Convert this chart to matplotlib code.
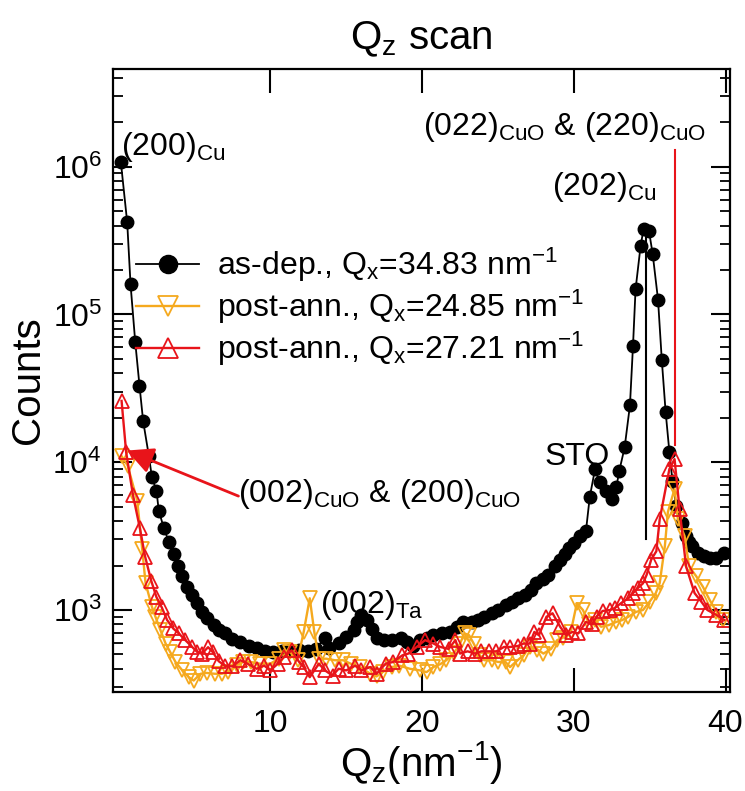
import numpy as np
import matplotlib
matplotlib.use('Agg')
import matplotlib.pyplot as plt

plt.rcParams['font.family'] = ['Liberation Sans', 'DejaVu Sans']
plt.rcParams['mathtext.fontset'] = 'custom'
plt.rcParams['mathtext.rm'] = 'Liberation Sans'
plt.rcParams['mathtext.it'] = 'Liberation Sans'
plt.rcParams['mathtext.default'] = 'regular'

# as-dep., Qx = 34.83 nm^-1
qz_dep = [0.15, 0.57, 0.79, 1.1, 1.38, 1.62, 2.0, 2.2, 2.5, 2.65, 2.98, 3.31, 3.64, 3.9,
          4.19, 4.52, 4.85, 5.18, 5.5, 5.84, 6.27, 6.6, 7.04, 7.48, 8.03, 8.57, 9.1, 9.67,
          10.2, 10.75, 11.3, 11.9, 12.5, 13.0, 13.6, 13.9, 14.5, 15.0, 15.5, 15.7, 16.0,
          16.4, 16.7, 17.0, 17.5, 18.0, 18.6, 19.0, 19.43, 19.87, 20.3, 20.75, 21.3, 21.84,
          22.3, 22.7, 23.3, 23.7, 24.1, 24.6, 25.0, 25.5, 25.9, 26.3, 26.8, 27.2, 27.5,
          28.0, 28.3, 28.75, 29.1, 29.4, 29.7, 30.0, 30.4, 30.8, 31.05, 31.4, 31.7, 32.1,
          32.5, 32.8, 33.0, 33.35, 33.7, 33.9, 34.07, 34.4, 34.6, 34.95, 35.2, 35.55, 35.8,
          36.05, 36.3, 36.5, 36.75, 37.1, 37.4, 37.6, 37.8, 38.2, 38.6, 39.0, 39.4, 39.9]
cnt_dep = [1.08e6, 4.2e5, 1.6e5, 6.5e4, 3.3e4, 1.9e4, 1.1e4, 7900, 6400, 4700, 3600, 2900,
           2400, 2000, 1700, 1440, 1270, 1110, 973, 877, 790, 731, 694, 641, 610, 570, 550,
           530, 520, 525, 533, 540, 530, 545, 650, 550, 600, 658, 731, 830, 930, 860, 740,
           645, 625, 625, 650, 610, 570, 625, 645, 675, 694, 710, 770, 830, 835, 855, 900,
           950, 1000, 1080, 1140, 1200, 1265, 1370, 1520, 1620, 1730, 1970, 2190, 2390,
           2630, 2850, 3160, 3420, 5800, 9000, 7300, 6400, 5620, 6760, 8770, 1.26e4, 2.43e4,
           6.1e4, 1.48e5, 2.9e5, 3.8e5, 3.7e5, 2.56e5, 1.26e5, 4.9e4, 2.2e4, 1.17e4, 7500,
           5060, 3900, 3160, 2900, 2700, 2440, 2310, 2250, 2250, 2440]

# post-ann., Qx = 24.85 nm^-1
qz_a1 = [0.2, 0.6, 1.23, 1.56, 1.78, 2.2, 2.43, 2.76, 3.1, 3.4, 3.75, 4.2, 4.63, 4.95, 5.4,
         5.8, 6.35, 6.8, 7.2, 7.8, 8.2, 8.7, 9.3, 10.0, 10.55, 10.9, 11.3, 11.8, 12.2, 12.6,
         12.9, 13.2, 13.7, 14.25, 14.8, 15.3, 15.9, 16.6, 17.0, 17.4, 18.0, 18.5, 19.2,
         19.87, 20.3, 20.75, 21.2, 21.6, 22.1, 22.5, 22.8, 23.1, 23.4, 23.8, 24.1, 24.6, 25.0,
         25.5, 25.8, 26.3, 26.7, 27.1, 27.6, 28.0, 28.5, 28.9, 29.3, 29.8, 30.2, 30.6, 31.0,
         31.4, 31.8, 32.3, 32.8, 33.2, 33.6, 34.1, 34.56, 35.0, 35.4, 35.66, 36.0, 36.2,
         36.64, 36.86, 37.3, 37.6, 38.07, 38.5, 38.95, 39.4, 39.8]
cnt_a1 = [1.1e4, 9500, 5500, 2570, 1520, 1050, 900, 730, 593, 520, 445, 390, 351, 333, 370,
          375, 370, 370, 380, 422, 445, 445, 433, 433, 468, 533, 520, 457, 710, 1200, 710,
          468, 468, 457, 457, 433, 411, 370, 355, 380, 411, 420, 400, 390, 380, 411, 430,
          457, 510, 593, 694, 675, 593, 495, 457, 457, 445, 445, 411, 457, 495, 562, 540,
          507, 545, 625, 650, 710, 1110, 1000, 810, 850, 770, 790, 830, 855, 900, 970, 1000,
          1140, 1300, 1520, 2700, 4600, 6600, 4100, 3160, 1970, 1690, 1440, 1170, 975, 855]

# post-ann., Qx = 27.21 nm^-1
qz_a2 = [0.2, 0.5, 0.95, 1.4, 1.75, 2.15, 2.5, 2.85, 3.2, 3.6, 3.97, 4.4, 4.85, 5.18, 5.5,
         5.9, 6.2, 6.6, 7.0, 7.5, 8.03, 8.5, 9.1, 9.6, 10.0, 10.5, 10.9, 11.4, 11.9, 12.2,
         12.6, 13.2, 13.6, 14.1, 14.5, 15.0, 15.6, 16.0, 16.6, 17.0, 17.6, 18.1, 18.7, 19.1,
         19.65, 20.2, 20.75, 21.2, 21.75, 22.2, 22.5, 23.0, 23.5, 23.9, 24.4, 24.9, 25.4,
         25.8, 26.3, 26.7, 27.1, 27.4, 27.7, 28.2, 28.6, 29.1, 29.5, 29.9, 30.3, 30.8, 31.2,
         31.5, 31.9, 32.4, 32.7, 33.1, 33.6, 33.9, 34.2, 34.56, 34.8, 35.1, 35.44, 35.66,
         36.3, 36.64, 36.97, 37.4, 37.96, 38.4, 38.8, 39.4, 39.93]
cnt_a2 = [2.6e4, 1.17e4, 6000, 3600, 2300, 1580, 1220, 1040, 855, 750, 694, 625, 562, 520,
          507, 560, 520, 450, 420, 415, 457, 433, 400, 420, 390, 433, 480, 533, 445, 411,
          351, 433, 390, 360, 400, 390, 420, 390, 411, 370, 433, 445, 493, 507, 562, 625,
          593, 562, 545, 625, 507, 525, 507, 525, 525, 525, 562, 562, 570, 593, 593, 710,
          675, 900, 950, 770, 675, 710, 694, 830, 800, 900, 985, 1000, 1030, 1110, 1200,
          1300, 1400, 1515, 1730, 2190, 2500, 4100, 9000, 1.05e4, 4800, 1970, 1300, 1140,
          1000, 925, 855]

c_orange = '#F5A91E'
c_red = '#E8141A'

fig = plt.figure(figsize=(7.45, 7.91), dpi=100)
ax = fig.add_axes([0.152, 0.125, 0.828, 0.788])

ax.plot(qz_dep, cnt_dep, '-o', color='black', lw=1.3, ms=9,
        label='as-dep., Q$_x$=34.83 nm$^{-1}$')
ax.plot(qz_a1, cnt_a1, '-v', color=c_orange, lw=1.7, ms=10, mfc='none', mew=1.3,
        label='post-ann., Q$_x$=24.85 nm$^{-1}$')
ax.plot(qz_a2, cnt_a2, '-^', color=c_red, lw=1.7, ms=10, mfc='none', mew=1.3,
        label='post-ann., Q$_x$=27.21 nm$^{-1}$')

# peak marker lines
ax.plot([34.77, 34.77], [3.7e5, 3000], color='black', lw=1.5)
ax.plot([36.7, 36.7], [1.3e4, 1.3e6], color=c_red, lw=1.5)

ax.set_yscale('log')
ax.set_xlim(-0.35, 40.3)
ax.set_ylim(278, 4.6e6)
ax.set_xticks([10, 20, 30, 40])
ax.tick_params(which='both', direction='in', top=True, right=True, labelsize=23, width=1.5)
ax.tick_params(axis='x', which='major', length=17, pad=12)
ax.tick_params(axis='y', which='major', length=14, pad=8)
ax.tick_params(axis='y', which='minor', length=7, width=1.3)
ax.tick_params(axis='x', which='minor', bottom=False, top=False)
for s in ax.spines.values():
    s.set_linewidth(1.6)

ax.set_title('Q$_z$ scan', fontsize=29, pad=14)
ax.set_xlabel('Q$_z$(nm$^{-1}$)', fontsize=29, labelpad=0)
ax.set_ylabel('Counts', fontsize=29, labelpad=4)

# peak labels
ax.text(0.15, 1.37e6, '(200)$_{Cu}$', fontsize=23, va='center', ha='left')
ax.text(29.4, 1.86e6, '(022)$_{CuO}$ & (220)$_{CuO}$', fontsize=23, va='center', ha='center')
ax.text(32.0, 7.3e5, '(202)$_{Cu}$', fontsize=23, va='center', ha='center')
ax.text(30.2, 1.09e4, 'STO', fontsize=23, va='center', ha='center')
ax.text(13.3, 1080, '(002)$_{Ta}$', fontsize=23, va='center', ha='left')
ax.text(7.9, 6080, '(002)$_{CuO}$ & (200)$_{CuO}$', fontsize=23, va='center', ha='left')
ax.annotate('', xy=(0.55, 1.2e4), xytext=(7.9, 5900),
            arrowprops=dict(arrowstyle='-|>', color=c_red, lw=2, mutation_scale=40,
                            shrinkA=0, shrinkB=0))

ax.legend(loc='upper left', bbox_to_anchor=(0.0, 0.752), frameon=False, fontsize=23,
          handlelength=2.0, handletextpad=0.55, labelspacing=0.12, markerscale=1.45,
          borderaxespad=0.3)

fig.savefig('out.png', dpi=100)
